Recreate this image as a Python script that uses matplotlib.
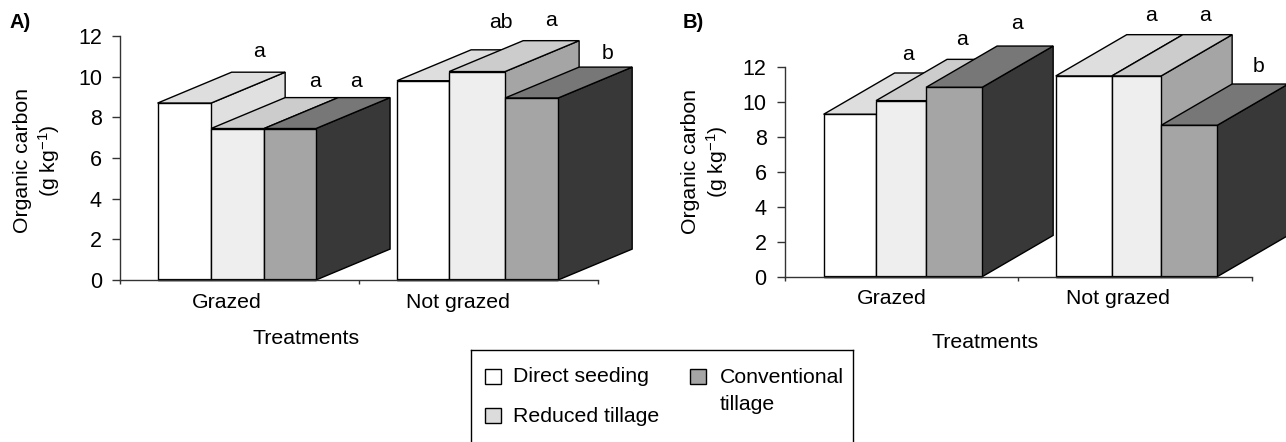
import matplotlib
matplotlib.use("Agg")
import matplotlib.pyplot as plt
from matplotlib.lines import Line2D
from matplotlib.patches import Polygon, Rectangle

plt.rcParams["font.family"] = ["Liberation Sans", "DejaVu Sans"]
plt.rcParams["mathtext.fontset"] = "custom"
plt.rcParams["mathtext.rm"] = "Liberation Sans"
plt.rcParams["mathtext.default"] = "regular"

W, H = 1286, 442
FS = 15.3

groups = ["Grazed", "Not grazed"]
series = ["Direct seeding", "Reduced tillage", "Conventional\ntillage"]
yticks = [0, 2, 4, 6, 8, 10, 12]

values_a = [[8.7, 7.45, 7.45], [9.8, 10.25, 8.95]]
values_b = [[9.28, 10.06, 10.82], [11.47, 11.47, 8.65]]

letters_a = ["a", "a", "a", "ab", "a", "b"]
letters_b = ["a", "a", "a", "a", "a", "b"]

FRONT = ["#ffffff", "#eeeeee", "#a5a5a5"]
TOP = ["#dedede", "#cccccc", "#777777"]
SIDE = ["#e0e0e0", "#a5a5a5", "#383838"]
SWATCH = ["#ffffff", "#dcdcdc", "#a5a5a5"]


def draw_bar(ax, x0, x1, h, dx, dy, i):
    kw = dict(edgecolor="black", linewidth=1.0, clip_on=False, joinstyle="miter")
    ax.add_patch(Polygon([(x1, 0), (x1 + dx, dy), (x1 + dx, h + dy), (x1, h)],
                         facecolor=SIDE[i], **kw))
    ax.add_patch(Polygon([(x0, h), (x0 + dx, h + dy), (x1 + dx, h + dy), (x1, h)],
                         facecolor=TOP[i], **kw))
    ax.add_patch(Polygon([(x0, 0), (x0, h), (x1, h), (x1, 0)],
                         facecolor=FRONT[i], **kw))
    ax.plot([x0, x1], [0, 0], color="black", linewidth=1.6, clip_on=False,
            solid_capstyle="butt")


def panel(box, values, letters, edges, depth, letter_xy, label_x, ylabel_xy):
    left, right, bottom, top = box
    ax = fig.add_axes([left / W, 1 - bottom / H, (right - left) / W, (bottom - top) / H])
    ax.set_xlim(0, 2)
    ax.set_ylim(0, 12)
    ax.patch.set_visible(False)
    for s in ("top", "right"):
        ax.spines[s].set_visible(False)
    for s in ("left", "bottom"):
        ax.spines[s].set_color("#333333")
        ax.spines[s].set_linewidth(1.0)

    for g, vals in enumerate(values):
        for i, h in enumerate(vals):
            draw_bar(ax, edges[g][i], edges[g][i + 1], h, depth[0], depth[1], i)

    ax.set_yticks(yticks)
    ax.set_xticks([0, 1, 2], labels=[])
    ax.set_xticks(label_x, labels=groups, minor=True)
    ax.tick_params(axis="y", length=6, width=1.0, color="#333333", labelsize=15.5, pad=7)
    ax.tick_params(axis="x", which="major", length=3, width=1.0, color="#333333")
    ax.tick_params(axis="x", which="minor", length=0, labelsize=FS, pad=9)
    ax.set_ylabel("Organic carbon\n(g kg$^{-1}$)", fontsize=FS, linespacing=1.2)
    ax.yaxis.set_label_coords(*ylabel_xy)

    for (x, y), s in zip(letter_xy, letters):
        ax.text(x, y, s, ha="center", va="center", fontsize=FS, clip_on=False)
    return ax


fig = plt.figure(figsize=(W / 100, H / 100), dpi=100)

panel((120, 598, 280, 36), values_a, letters_a,
      [[0.157, 0.381, 0.603, 0.820], [1.159, 1.377, 1.611, 1.833]],
      (0.31, 1.52),
      [(0.582, 11.25), (0.816, 9.75), (0.987, 9.75), (1.594, 12.65), (1.803, 12.75), (2.038, 11.15)],
      [0.445, 1.415], (-0.122, 0.49))
panel((784.7, 1252, 276.7, 66.7), values_b, letters_b,
      [[0.1665, 0.391, 0.605, 0.845], [1.160, 1.400, 1.611, 1.851]],
      (0.304, 2.36),
      [(0.526, 12.7), (0.759, 13.55), (0.995, 14.45), (1.568, 14.9), (1.799, 14.95), (2.026, 12.0)],
      [0.459, 1.425], (-0.117, 0.55))


def px_text(x, y, s, **kw):
    kw.setdefault("fontsize", FS)
    kw.setdefault("va", "center")
    fig.text(x / W, 1 - y / H, s, **kw)


px_text(306, 339, "Treatments", ha="center")
px_text(985, 343, "Treatments", ha="center")
px_text(9, 22, "A)", fontsize=14.5, fontweight="bold")
px_text(683, 22, "B)", fontsize=14.5, fontweight="bold")

# legend box is cut off by the bottom of the figure, so no bottom line
for xs, ys in ([(471, 471), (442, 350)], [(471, 853), (350, 350)], [(853, 853), (350, 442)]):
    fig.add_artist(Line2D([x / W for x in xs], [1 - y / H for y in ys],
                          color="black", linewidth=1.0))

for (x, y), color in zip([(485, 369), (485, 408), (690, 369)], SWATCH):
    fig.add_artist(Rectangle((x / W, 1 - (y + 15) / H), 16 / W, 15 / H, facecolor=color,
                             edgecolor="black", linewidth=1.0, transform=fig.transFigure))

px_text(513, 377, series[0])
px_text(513, 417, series[1])
px_text(720, 391, series[2], linespacing=1.55)

fig.savefig("out.png", dpi=100)
